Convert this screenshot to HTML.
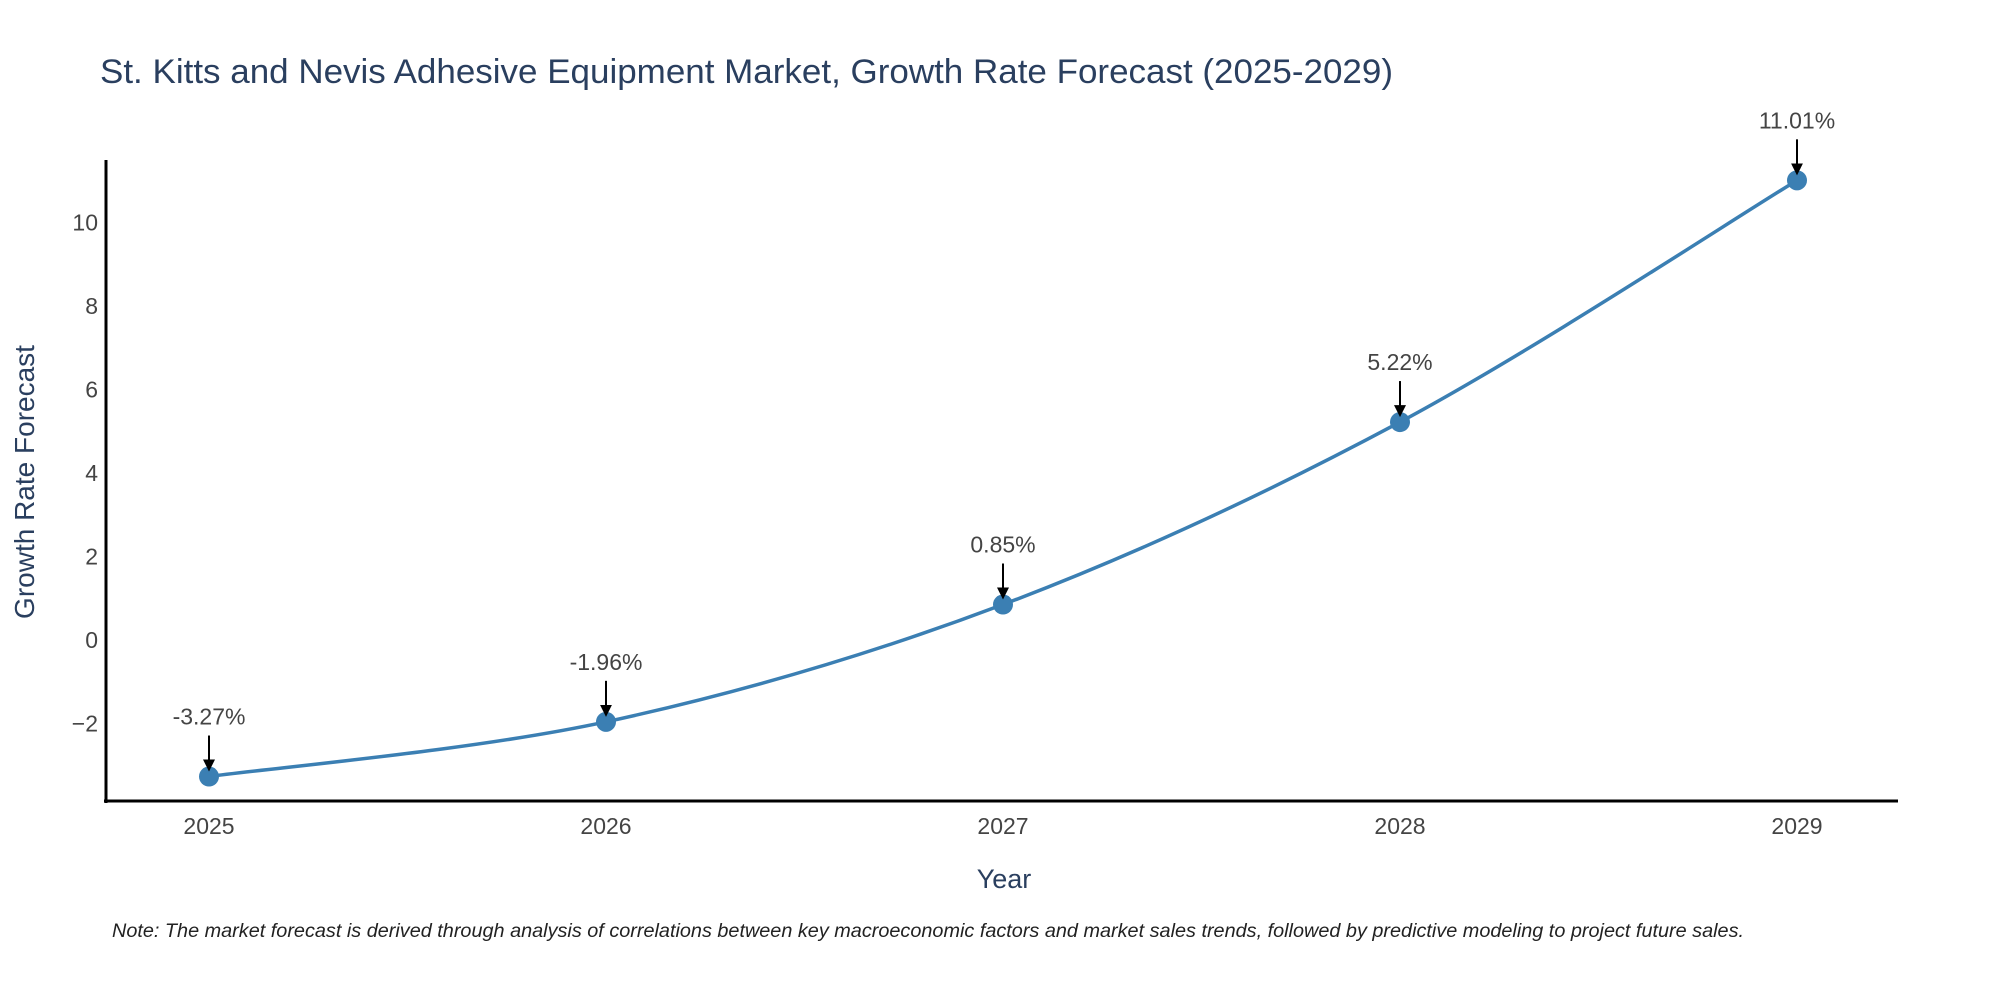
<!DOCTYPE html>
<html><head><meta charset="utf-8"><style>
html,body{margin:0;padding:0;background:#fff;}
svg{display:block;font-family:"Liberation Sans",sans-serif;}
</style></head><body>
<svg id="chart" width="2000" height="1000" viewBox="0 0 2000 1000">
<defs><marker id="ah" markerWidth="6" markerHeight="6" refX="5" refY="3" orient="auto" markerUnits="strokeWidth"><path d="M0,0 L6,3 L0,6 Z" fill="#000"/></marker></defs>
<text x="100" y="83" font-size="34" fill="#2a3f5f" textLength="1293" lengthAdjust="spacingAndGlyphs">St. Kitts and Nevis Adhesive Equipment Market, Growth Rate Forecast (2025-2029)</text>
<g id="yticks"></g><g id="xticks"></g>
<line x1="106" y1="160" x2="106" y2="803" stroke="#000" stroke-width="3"/>
<line x1="104" y1="801" x2="1898" y2="801" stroke="#000" stroke-width="3"/>
<text transform="translate(34,482) rotate(-90)" text-anchor="middle" font-size="28" fill="#2a3f5f">Growth Rate Forecast</text>
<text x="1004" y="888" text-anchor="middle" font-size="27" fill="#2a3f5f">Year</text>
<g id="plot"></g>
<text x="112" y="937" font-size="19.5" font-style="italic" fill="#222" textLength="1632" lengthAdjust="spacingAndGlyphs">Note: The market forecast is derived through analysis of correlations between key macroeconomic factors and market sales trends, followed by predictive modeling to project future sales.</text>
</svg>
<script>
const years = ["2025","2026","2027","2028","2029"];
const values = [-3.27, -1.96, 0.85, 5.22, 11.01];
const yTickValues = [-2, 0, 2, 4, 6, 8, 10];
const yTickLabels = ["\u22122","0","2","4","6","8","10"];

const NS = "http://www.w3.org/2000/svg";
function xPos(i){ return 209 + i * (1797 - 209) / (years.length - 1); }
function yPos(v){ return 640 - v * 41.75; }
function mk(tag, attrs, parent){ const e = document.createElementNS(NS, tag); for (const k in attrs) e.setAttribute(k, attrs[k]); parent.appendChild(e); return e; }

const yt = document.getElementById("yticks");
yTickValues.forEach((v, i) => {
  const t = mk("text", {x: 98, y: yPos(v) + 8, "text-anchor": "end", "font-size": 23, fill: "#444"}, yt);
  t.textContent = yTickLabels[i];
  
  
});
const xt = document.getElementById("xticks");
years.forEach((y, i) => {
  const t = mk("text", {x: xPos(i), y: 834, "text-anchor": "middle", "font-size": 23, fill: "#444"}, xt);
  t.textContent = y;
  
  
});

const plot = document.getElementById("plot");
const pts = values.map((v, i) => [xPos(i), yPos(v)]);
let d = "M" + pts[0][0] + "," + pts[0][1];
for (let i = 0; i < pts.length - 1; i++) {
  const p0 = pts[Math.max(0, i - 1)], p1 = pts[i], p2 = pts[i + 1], p3 = pts[Math.min(pts.length - 1, i + 2)];
  const s = 6;
  const c1 = [p1[0] + (p2[0] - p0[0]) / s, p1[1] + (p2[1] - p0[1]) / s];
  const c2 = [p2[0] - (p3[0] - p1[0]) / s, p2[1] - (p3[1] - p1[1]) / s];
  d += " C" + c1[0] + "," + c1[1] + " " + c2[0] + "," + c2[1] + " " + p2[0] + "," + p2[1];
}
const line = mk("path", {d: d, fill: "none", stroke: "#3b7fb3", "stroke-width": 3.5}, plot);



pts.forEach((p, i) => {
  const c = mk("circle", {cx: p[0], cy: p[1], r: 10, fill: "#3b7fb3"}, plot);
  
  
  const a = mk("line", {x1: p[0], y1: p[1] - 41, x2: p[0], y2: p[1] - 7, stroke: "#000", "stroke-width": 2, "marker-end": "url(#ah)"}, plot);
  
  
  const t = mk("text", {x: p[0], y: p[1] - 52, "text-anchor": "middle", "font-size": 23, fill: "#444"}, plot);
  t.textContent = values[i].toFixed(2) + "%";
  
  
});
</script>
</body></html>
